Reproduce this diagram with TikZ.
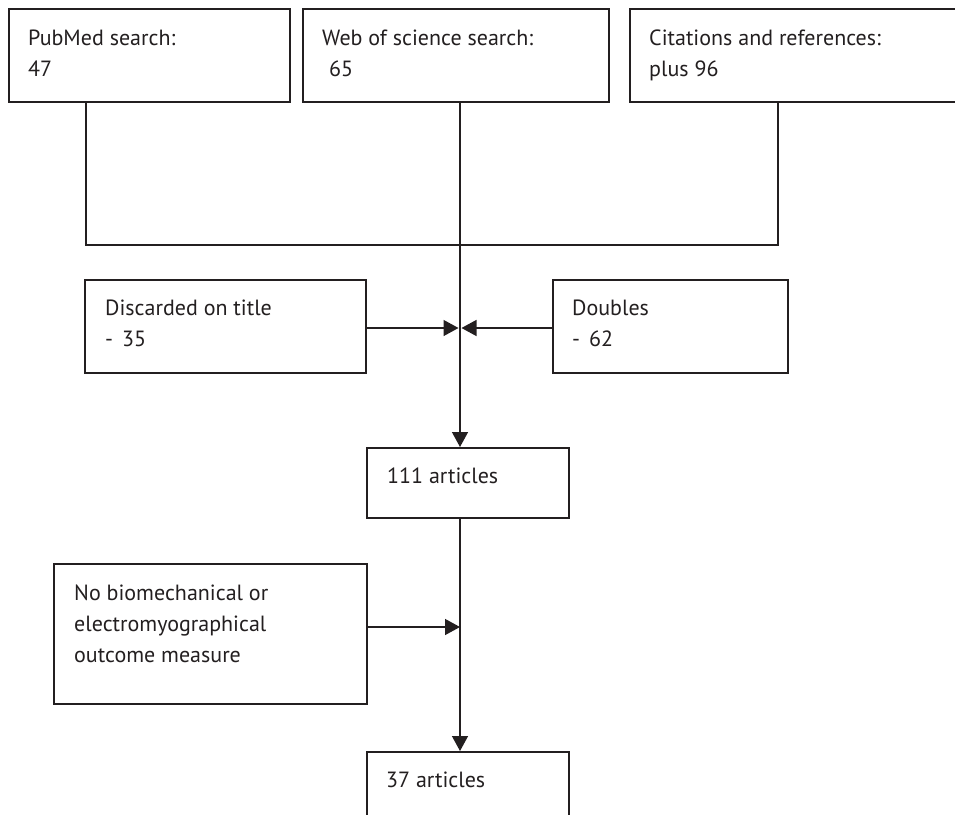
\documentclass[tikz,border=0pt]{standalone}
\usepackage{fontspec}
\setmainfont{PT Sans}
\usetikzlibrary{arrows.meta,calc}
\definecolor{ink}{HTML}{231F20}
\newcommand\ftxt[1]{\parbox[t]{12cm}{\fontsize{22}{31}\selectfont\raggedright #1}}
\begin{document}
\begin{tikzpicture}[x=1pt,y=-1pt,
  box/.style={draw=ink, line width=1.8pt, inner sep=0pt, anchor=north west},
  conn/.style={draw=ink, line width=1.4pt},
  arr/.style={conn, -{Triangle[length=15pt,width=16pt]}},
  txt/.style={anchor=base west, inner sep=0pt, text=ink}]
\clip (0,0) rectangle (955,814);
\fill[white] (0,0) rectangle (955,814);
% boxes
\node[box, minimum width=281pt, minimum height=93pt] (pub) at (8,8) {};
\node[box, minimum width=306pt, minimum height=93pt] (web) at (302,8) {};
\node[box, minimum width=340pt, minimum height=93pt] (cit) at (629,8) {};
\node[box, minimum width=281pt, minimum height=93pt] (disc) at (84,279) {};
\node[box, minimum width=235pt, minimum height=93pt] (dbl) at (552,279) {};
\node[box, minimum width=202pt, minimum height=70pt] (a111) at (366,447) {};
\node[box, minimum width=313pt, minimum height=140pt] (nobio) at (53,563) {};
\node[box, minimum width=202pt, minimum height=100pt] (a37) at (366,751) {};
% texts
\node[txt] at ($(pub.north west)+(20,37)$) {\ftxt{PubMed search:\\47}};
\node[txt] at ($(web.north west)+(20,37)$) {\ftxt{Web of science search:\\\hspace*{7pt}65}};
\node[txt] at ($(cit.north west)+(20,37)$) {\ftxt{Citations and references:\\plus 96}};
\node[txt] at ($(disc.north west)+(21,36)$) {\ftxt{Discarded on title\\-\hspace{9pt}35}};
\node[txt] at ($(dbl.north west)+(20,36)$) {\ftxt{Doubles\\-\hspace{9pt}62}};
\node[txt] at ($(a111.north west)+(21,36)$) {\ftxt{111 articles}};
\node[txt] at ($(nobio.north west)+(21,37)$) {\ftxt{No biomechanical or\\electromyographical\\outcome measure}};
\node[txt] at ($(a37.north west)+(20,36)$) {\ftxt{37 articles}};
% junction coordinates
\coordinate (j1) at (86,245);
\coordinate (j3) at (778,245);
\coordinate (m) at (460,245);
\coordinate (t) at (460,392);
\coordinate (dm) at (460,328);
\coordinate (nb) at (460,627);
% connectors
\draw[conn] (pub.south -| j1) -- (j1) -- (j3) -- (cit.south -| j3);
\draw[conn] (web.south -| m) -- (m);
\draw[arr] (m) -- (a111.north -| m);
\draw[draw=ink, line width=2.6pt] (m) -- (t);
\draw[arr, shorten >=1.5pt] (dm -| disc.east) -- (dm);
\draw[arr, shorten >=1.5pt] (dm -| dbl.west) -- (dm);
\draw[arr] (nb -| nobio.east) -- (nb);
\draw[arr] (a111.south -| m) -- (a37.north -| m);
\end{tikzpicture}
\end{document}
